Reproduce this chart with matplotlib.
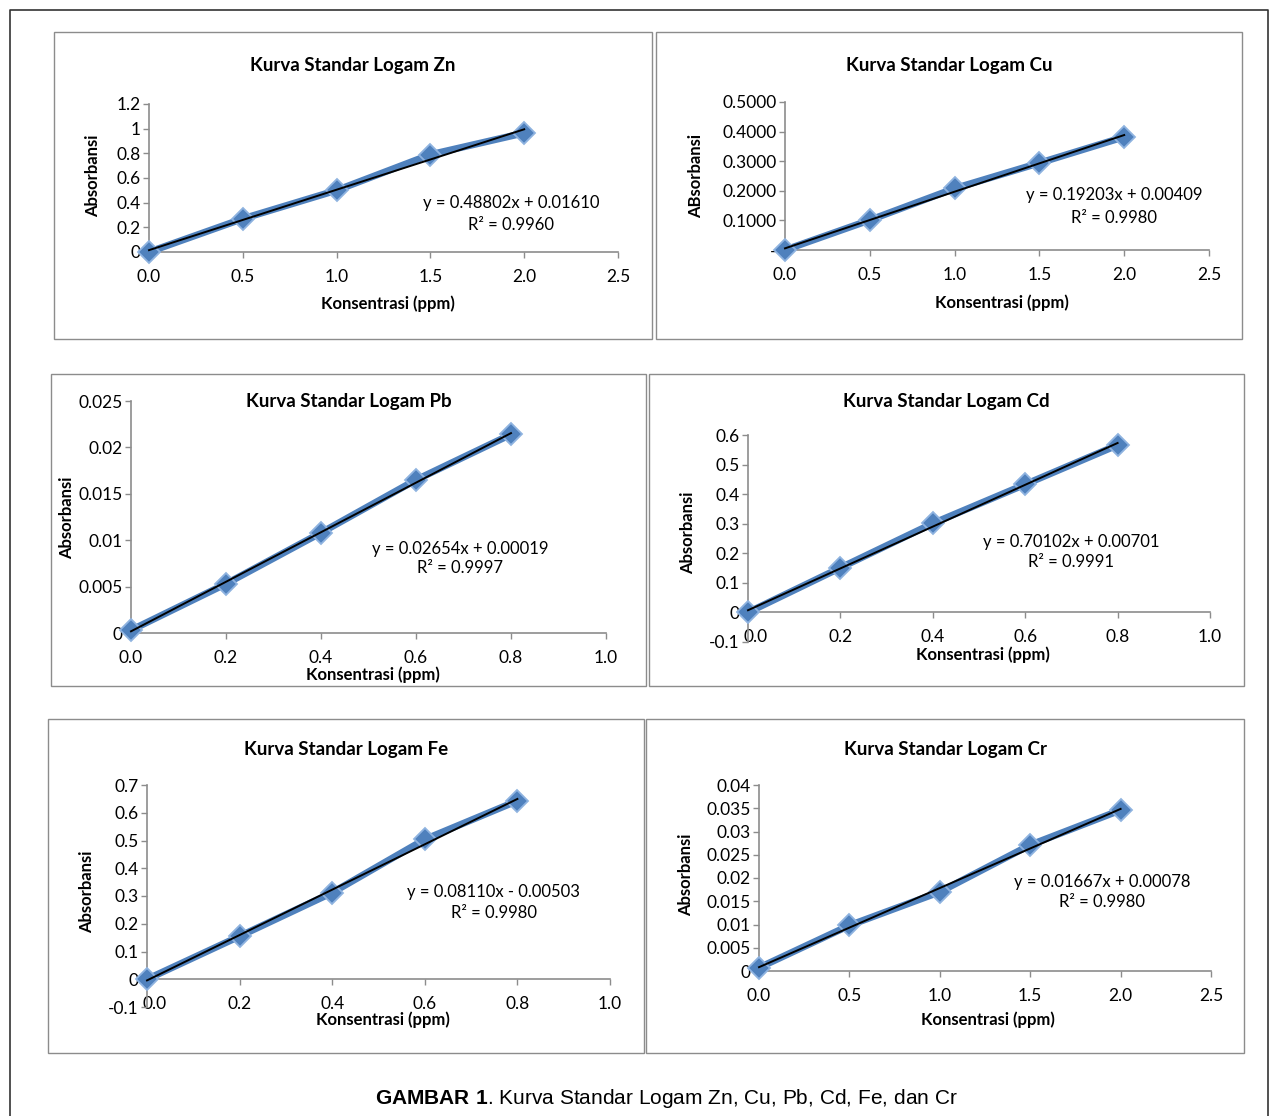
import numpy as np
import matplotlib
matplotlib.use("Agg")
import matplotlib.pyplot as plt
from matplotlib.patches import Rectangle
from matplotlib.transforms import ScaledTranslation

plt.rcParams['font.family'] = ['Lato', 'DejaVu Sans']
plt.rcParams['mathtext.fontset'] = 'custom'
plt.rcParams['mathtext.bf'] = 'Liberation Sans:bold'
plt.rcParams['mathtext.rm'] = 'Liberation Sans'

W, H = 1278, 1116

# concentrations (ppm)
conc_a = [0.0, 0.5, 1.0, 1.5, 2.0]
conc_b = [0.0, 0.2, 0.4, 0.6, 0.8]

# absorbance readings
abs_zn = [0.0, 0.27, 0.50, 0.79, 0.965]
abs_cu = [0.0, 0.101, 0.208, 0.294, 0.382]
abs_pb = [0.0003, 0.0053, 0.0108, 0.0165, 0.0214]
abs_cd = [0.0, 0.151, 0.301, 0.433, 0.566]
abs_fe = [0.0, 0.155, 0.312, 0.504, 0.643]
abs_cr = [0.0007, 0.0098, 0.0170, 0.0271, 0.0346]

metals = ['Zn', 'Cu', 'Pb', 'Cd', 'Fe', 'Cr']
equations = ['y = 0.48802x + 0.01610', 'y = 0.19203x + 0.00409',
             'y = 0.02654x + 0.00019', 'y = 0.70102x + 0.00701',
             'y = 0.08110x - 0.00503', 'y = 0.01667x + 0.00078']
r_squared = ['R² = 0.9960', 'R² = 0.9980', 'R² = 0.9997',
             'R² = 0.9991', 'R² = 0.9980', 'R² = 0.9980']

BLUE = '#4F81BD'
GRAY = '#8c8c8c'

fig = plt.figure(figsize=(W / 100, H / 100), dpi=100)


def fx(px):
    return px / W


def fy(py):
    return 1 - py / H


def general(v, pos=None):
    return f"{v:g}"


def draw_panel(box, area, x, y, metal, eq, r2, xmax, yticks, ylabel,
               eq_pos, title_y, xlab_pos, ylab_pos, ylabfmt=general, zero_axis=False):
    bx0, by0, bx1, by1 = box
    fig.patches.append(Rectangle((fx(bx0), fy(by1)), fx(bx1 - bx0), (by1 - by0) / H,
                                 transform=fig.transFigure, fill=False,
                                 edgecolor=GRAY, lw=1.0))
    ax0, ay0, ax1, ay1 = area
    ax = fig.add_axes([fx(ax0), fy(ay1), fx(ax1 - ax0), (ay1 - ay0) / H])
    ax.set_facecolor('none')

    ax.plot(x, y, color=BLUE, lw=5, marker='D', markersize=11,
            markerfacecolor=BLUE, markeredgecolor='#8fb3e0', markeredgewidth=1.3,
            solid_joinstyle='round', zorder=3, clip_on=False)
    k, b = np.polyfit(x, y, 1)
    xs = np.array([x[0], x[-1]])
    ax.plot(xs, k * xs + b, color='black', lw=1.4, zorder=4, clip_on=False)

    ax.set_xlim(0, xmax)
    ax.set_ylim(yticks[0], yticks[-1])
    ax.set_xticks(np.arange(0, xmax + 0.01, 0.5 if xmax > 1.5 else 0.2))
    ax.set_yticks(yticks)
    ax.xaxis.set_major_formatter(lambda v, p: f"{v:.1f}")
    ax.yaxis.set_major_formatter(ylabfmt)
    for s in ['top', 'right']:
        ax.spines[s].set_visible(False)
    for s in ['left', 'bottom']:
        ax.spines[s].set_color(GRAY)
        ax.spines[s].set_linewidth(1.2)
    ax.tick_params(axis='both', colors=GRAY, labelcolor='black', labelsize=12.5,
                   length=4, width=1.0)
    ax.tick_params(axis='x', pad=8)
    ax.tick_params(axis='y', pad=2)
    if zero_axis:
        ax.spines['bottom'].set_position(('data', 0))
        # the "0.0" label sits right against "-0.1"; nudge it to the right a bit
        lab = ax.get_xticklabels()[0]
        lab.set_transform(lab.get_transform() + ScaledTranslation(8 / 100, 0, fig.dpi_scale_trans))

    ax.text(eq_pos[0], eq_pos[1], eq, ha='center', va='center', fontsize=12)
    ax.text(eq_pos[0], eq_pos[2], r2, ha='center', va='center', fontsize=12)

    fig.text(fx((bx0 + bx1) / 2), fy(title_y), f"Kurva Standar Logam {metal}",
             ha='center', va='center', fontsize=13.5, fontweight='bold')
    fig.text(fx(xlab_pos[0]), fy(xlab_pos[1]), "Konsentrasi (ppm)",
             ha='center', va='center', fontsize=12, fontweight='bold')
    fig.text(fx(ylab_pos[0]), fy(ylab_pos[1]), ylabel, rotation=90,
             ha='center', va='center', fontsize=12, fontweight='bold')
    return ax


def cu_fmt(v, pos=None):
    return '-' if abs(v) < 1e-9 else f"{v:.4f}"


draw_panel((54, 32, 652, 339), (149, 104, 618, 252), conc_a, abs_zn, metals[0],
           equations[0], r_squared[0], 2.5, [0, 0.2, 0.4, 0.6, 0.8, 1.0, 1.2],
           'Absorbansi', (1.93, 0.397, 0.219), 65, (388, 304), (93, 176))
draw_panel((656, 32, 1242, 339), (785, 102, 1209, 250), conc_a, abs_cu, metals[1],
           equations[1], r_squared[1], 2.5, [0, 0.1, 0.2, 0.3, 0.4, 0.5],
           'ABsorbansi', (1.94, 0.186, 0.108), 65, (1002, 303), (696, 176), ylabfmt=cu_fmt)
draw_panel((51, 374, 646, 686), (131, 401, 606, 633), conc_b, abs_pb, metals[2],
           equations[2], r_squared[2], 1.0, [0, 0.005, 0.01, 0.015, 0.02, 0.025],
           'Absorbansi', (0.693, 0.00905, 0.0070), 402, (373, 675), (67, 518))
draw_panel((649, 374, 1244, 686), (748, 435, 1210, 642), conc_b, abs_cd, metals[3],
           equations[3], r_squared[3], 1.0, [-0.1, 0, 0.1, 0.2, 0.3, 0.4, 0.5, 0.6],
           'Absorbansi', (0.699, 0.237, 0.169), 402, (983, 655), (688, 533), zero_axis=True)
draw_panel((48, 719, 644, 1053), (147, 785, 610, 1007), conc_b, abs_fe, metals[4],
           equations[4], r_squared[4], 1.0, [-0.1, 0, 0.1, 0.2, 0.3, 0.4, 0.5, 0.6, 0.7],
           'Absorbansi', (0.749, 0.314, 0.238), 750, (383, 1020), (87, 892), zero_axis=True)
draw_panel((646, 719, 1244, 1053), (759, 785, 1211, 971), conc_a, abs_cr, metals[5],
           equations[5], r_squared[5], 2.5,
           [0, 0.005, 0.01, 0.015, 0.02, 0.025, 0.03, 0.035, 0.04],
           'Absorbansi', (1.897, 0.0191, 0.0148), 750, (988, 1020), (686, 875))

# outer frame of the figure page
frame_x = [fx(10), fx(10), fx(1268), fx(1268)]
frame_y = [0, fy(10), fy(10), 0]
fig.add_artist(plt.Line2D(frame_x, frame_y, transform=fig.transFigure,
                          color='#333333', lw=1.2))

fig.text(fx(666), fy(1099), r"$\mathbf{GAMBAR\ 1}$. Kurva Standar Logam Zn, Cu, Pb, Cd, Fe, dan Cr",
         ha='center', va='center', fontsize=15, family='Liberation Sans')

fig.savefig('out.png', dpi=100)
